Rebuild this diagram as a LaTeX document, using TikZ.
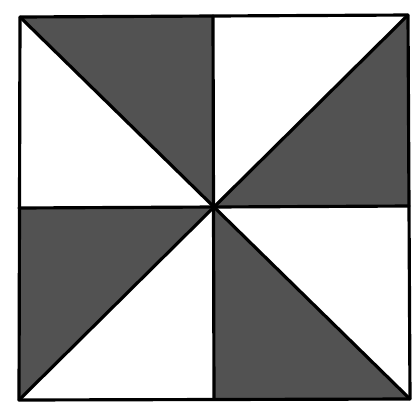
\documentclass[tikz,border=0pt]{standalone}
\usetikzlibrary{positioning}
\tikzset{
  pin-shade/.style={fill=black!68, draw=none},
  pin-line/.style={draw=black, line width=1.8pt, line cap=round, line join=round}
}
\begin{document}
\begin{tikzpicture}[x=0.02cm, y=-0.02cm]
  \useasboundingbox (0,0) rectangle (419,410);
  % corners, edge midpoints and centre
  \coordinate (tl) at (20,17);
  \coordinate (tr) at (408,15);
  \coordinate (br) at (410,399);
  \coordinate (bl) at (19,400);
  \coordinate (tm) at (213,16);
  \coordinate (bm) at (214,399);
  \coordinate (lm) at (19,208);
  \coordinate (rm) at (409,206);
  \coordinate (c) at (213,206);

  % shaded triangles of the pinwheel
  \fill[pin-shade] (tl) -- (tm) -- (c) -- cycle;
  \fill[pin-shade] (c) -- (rm) -- (tr) -- cycle;
  \fill[pin-shade] (c) -- (bm) -- (br) -- cycle;
  \fill[pin-shade] (c) -- (lm) -- (bl) -- cycle;

  % outline and dividing lines
  \draw[pin-line] (tl) -- (tr) -- (br) -- (bl) -- cycle;
  \draw[pin-line] (tm) -- (bm);
  \draw[pin-line] (lm) -- (rm);
  \draw[pin-line] (tl) -- (br);
  \draw[pin-line] (tr) -- (bl);
\end{tikzpicture}
\end{document}
